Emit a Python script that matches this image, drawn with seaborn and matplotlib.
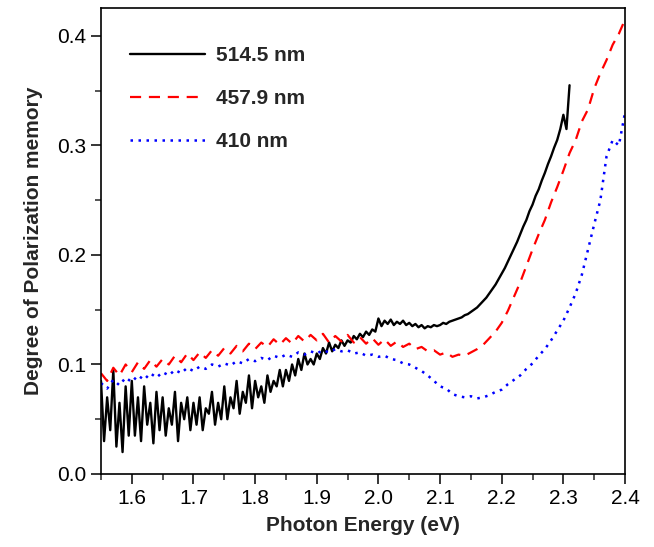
import numpy as np
import pandas as pd
import matplotlib
matplotlib.use("Agg")
import matplotlib.pyplot as plt
import seaborn as sns
from matplotlib.ticker import MultipleLocator

# degree of polarization memory
# 514.5 nm excitation, sampled every 0.005 eV from 1.55 to 2.31 eV
dop_514 = [
    0.085, 0.030, 0.070, 0.040, 0.095, 0.025, 0.065, 0.020, 0.080, 0.035,
    0.085, 0.035, 0.070, 0.030, 0.080, 0.045, 0.065, 0.028, 0.075, 0.040,
    0.070, 0.035, 0.060, 0.045, 0.075, 0.030, 0.065, 0.050, 0.070, 0.040,
    0.065, 0.045, 0.070, 0.040, 0.060, 0.055, 0.075, 0.045, 0.065, 0.050,
    0.080, 0.050, 0.070, 0.060, 0.085, 0.055, 0.075, 0.065, 0.090, 0.060,
    0.085, 0.070, 0.080, 0.065, 0.090, 0.075, 0.085, 0.080, 0.095, 0.080,
    0.095, 0.085, 0.100, 0.090, 0.105, 0.095, 0.110, 0.100, 0.105, 0.100,
    0.110, 0.105, 0.115, 0.110, 0.120, 0.112, 0.118, 0.115, 0.122, 0.117,
    0.122, 0.120, 0.126, 0.123, 0.128, 0.125, 0.130, 0.127, 0.132, 0.130,
    0.142, 0.135, 0.140, 0.137, 0.141, 0.136, 0.139, 0.137, 0.140, 0.136,
    0.138, 0.135, 0.137, 0.134, 0.136, 0.133, 0.135, 0.134, 0.136, 0.135,
    0.136, 0.138, 0.137, 0.139, 0.140, 0.141, 0.142, 0.143, 0.145, 0.146,
    0.148, 0.150, 0.152, 0.155, 0.158, 0.161, 0.165, 0.169, 0.173, 0.178,
    0.183, 0.188, 0.194, 0.200, 0.206, 0.212, 0.219, 0.226, 0.232, 0.240,
    0.246, 0.254, 0.260, 0.268, 0.275, 0.283, 0.290, 0.298, 0.305, 0.315,
    0.328, 0.315, 0.355,
]

# 457.9 nm excitation, every 0.01 eV from 1.55 to 2.40 eV
dop_458 = [
    0.092, 0.085, 0.097, 0.090, 0.100,
    0.093, 0.102, 0.096, 0.104, 0.098,
    0.105, 0.100, 0.108, 0.102, 0.110,
    0.104, 0.111, 0.106, 0.113, 0.108,
    0.115, 0.110, 0.117, 0.112, 0.119,
    0.114, 0.120, 0.116, 0.123, 0.118,
    0.124, 0.119, 0.126, 0.121, 0.127,
    0.122, 0.128, 0.120, 0.126, 0.121,
    0.127, 0.120, 0.125, 0.119, 0.124,
    0.118, 0.123, 0.117, 0.121, 0.116,
    0.119, 0.114, 0.116, 0.112, 0.113,
    0.109, 0.111, 0.107, 0.109, 0.108,
    0.111, 0.114, 0.118, 0.124, 0.130,
    0.138, 0.149, 0.162, 0.175, 0.190,
    0.205, 0.219, 0.232, 0.248, 0.262,
    0.277, 0.293, 0.305, 0.322, 0.333,
    0.352, 0.366, 0.378, 0.392, 0.402,
    0.415,
]

# 410 nm excitation, every 0.01 eV from 1.55 to 2.40 eV
dop_410 = [
    0.083, 0.078, 0.086, 0.081, 0.088,
    0.084, 0.090, 0.086, 0.092, 0.088,
    0.093, 0.090, 0.095, 0.092, 0.097,
    0.094, 0.098, 0.096, 0.100, 0.098,
    0.101, 0.099, 0.103, 0.101, 0.105,
    0.103, 0.106, 0.104, 0.108, 0.106,
    0.109, 0.107, 0.111, 0.109, 0.112,
    0.110, 0.113, 0.111, 0.114, 0.112,
    0.113, 0.110, 0.111, 0.108, 0.109,
    0.107, 0.108, 0.105, 0.104, 0.101,
    0.100, 0.097, 0.094, 0.090, 0.085,
    0.080, 0.078, 0.073, 0.071, 0.070,
    0.071, 0.069, 0.070, 0.072, 0.075,
    0.077, 0.082, 0.086, 0.090, 0.096,
    0.101, 0.108, 0.114, 0.122, 0.131,
    0.140, 0.152, 0.165, 0.182, 0.205,
    0.228, 0.250, 0.290, 0.305, 0.300,
    0.330,
]

labels = ["514.5 nm", "457.9 nm", "410 nm"]
colors = ["black", "#ff0000", "#0000ff"]

# energy grids of the scans
e_514 = np.linspace(1.55, 2.31, len(dop_514))
e_458 = np.linspace(1.55, 2.40, len(dop_458))
e_410 = np.linspace(1.55, 2.40, len(dop_410))

sns.set_style("ticks")
plt.rcParams["font.family"] = ["Liberation Sans", "DejaVu Sans"]

fig = plt.figure(figsize=(6.54, 5.47), dpi=100)
ax = fig.add_axes([0.1544, 0.1335, 0.8013, 0.852])

sns.lineplot(x=e_514, y=dop_514, ax=ax, color=colors[0], lw=1.7,
             label=labels[0])
sns.lineplot(x=e_458, y=dop_458, ax=ax, color=colors[1], lw=1.6,
             linestyle=(0, (5, 3.5)), label=labels[1])
sns.lineplot(x=e_410, y=dop_410, ax=ax, color=colors[2], lw=1.8,
             linestyle=(0, (1, 2.2)), label=labels[2])

ax.set_xlim(1.55, 2.4)
ax.set_ylim(0, 0.4256)
ax.xaxis.set_major_locator(MultipleLocator(0.1))
ax.xaxis.set_minor_locator(MultipleLocator(0.05))
ax.yaxis.set_major_locator(MultipleLocator(0.1))
ax.yaxis.set_minor_locator(MultipleLocator(0.05))
ax.tick_params(which="major", direction="out", length=7, width=1.1,
               labelsize=15, colors="black")
ax.tick_params(which="minor", direction="out", length=4, width=1.1)
ax.tick_params(top=False, right=False, which="both")
for s in ax.spines.values():
    s.set_visible(True)
    s.set_linewidth(1.2)
    s.set_color("black")

ax.set_xlabel("Photon Energy (eV)", fontsize=15, fontweight="bold", labelpad=6)
ax.set_ylabel("Degree of Polarization memory", fontsize=15,
              fontweight="bold", labelpad=10)

leg = ax.legend(loc="upper left", frameon=False, fontsize=15,
                handlelength=3.6, handletextpad=0.5, labelspacing=1.15,
                borderaxespad=1.0, bbox_to_anchor=(0.0, 0.98))
for t in leg.get_texts():
    t.set_fontweight("bold")

fig.savefig("out.png", dpi=100)
